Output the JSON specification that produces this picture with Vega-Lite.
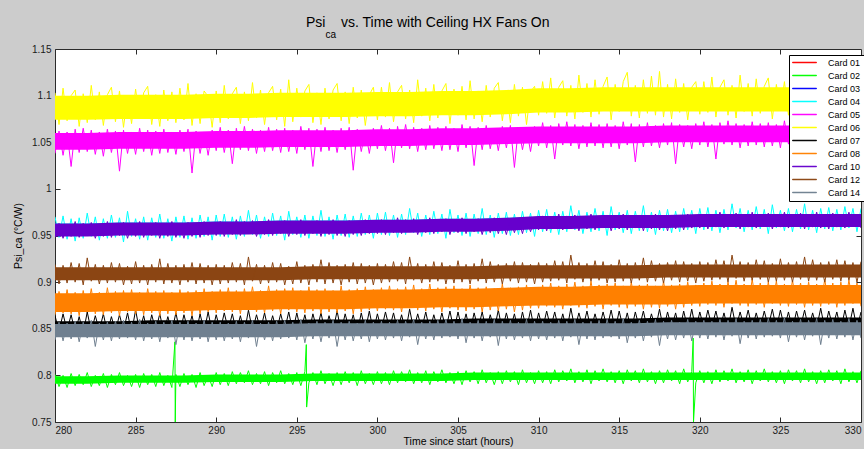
{
  "$schema": "https://vega.github.io/schema/vega-lite/v6.json",
  "width": 806,
  "height": 373,
  "autosize": {"type": "none"},
  "padding": {"left": 55, "top": 49, "right": 3, "bottom": 27},
  "background": "#cccccc",
  "title": {
    "text": "Psi\u00a0\u00a0\u00a0\u00a0vs. Time with Ceiling HX Fans On",
    "subtitle": "\u200b\u00a0\u00a0\u00a0\u00a0\u00a0\u00a0\u00a0ca",
    "anchor": "start",
    "frame": "group",
    "dx": 251,
    "offset": 4,
    "font": "Liberation Sans",
    "fontSize": 14,
    "fontWeight": "normal",
    "color": "#000000",
    "subtitleFont": "Liberation Sans",
    "subtitleFontSize": 10,
    "subtitleColor": "#000000",
    "subtitlePadding": 0
  },
  "config": {
    "font": "Liberation Sans",
    "view": {"fill": "white", "stroke": "#2b2b2b", "strokeWidth": 1},
    "axis": {
      "domain": false,
      "grid": false,
      "tickColor": "#2b2b2b",
      "tickSize": -5,
      "labelFont": "Liberation Sans",
      "labelFontSize": 10,
      "labelColor": "#1a1a1a",
      "titleFont": "Liberation Sans",
      "titleFontSize": 10.5,
      "titleFontWeight": "normal",
      "titleColor": "#000000"
    }
  },
  "datasets": {
    "bands": [
      {"t":280,"c01lo":0.875,"c01hi":0.881,"c02lo":0.791,"c02hi":0.799,"c03lo":0.953,"c03hi":0.959,"c04lo":0.953,"c04hi":0.963,"c05lo":1.042,"c05hi":1.060,"c06lo":1.074,"c06hi":1.100,"c07lo":0.852,"c07hi":0.858,"c08lo":0.868,"c08hi":0.888,"c10lo":0.949,"c10hi":0.963,"c12lo":0.902,"c12hi":0.916,"c14lo":0.841,"c14hi":0.855},
      {"t":282,"c01lo":0.875,"c01hi":0.881,"c02lo":0.791,"c02hi":0.799,"c03lo":0.953,"c03hi":0.959,"c04lo":0.953,"c04hi":0.963,"c05lo":1.042,"c05hi":1.060,"c06lo":1.074,"c06hi":1.100,"c07lo":0.852,"c07hi":0.858,"c08lo":0.868,"c08hi":0.888,"c10lo":0.949,"c10hi":0.963,"c12lo":0.902,"c12hi":0.916,"c14lo":0.841,"c14hi":0.855},
      {"t":284,"c01lo":0.876,"c01hi":0.882,"c02lo":0.792,"c02hi":0.800,"c03lo":0.954,"c03hi":0.960,"c04lo":0.954,"c04hi":0.964,"c05lo":1.043,"c05hi":1.061,"c06lo":1.075,"c06hi":1.101,"c07lo":0.852,"c07hi":0.858,"c08lo":0.869,"c08hi":0.889,"c10lo":0.950,"c10hi":0.964,"c12lo":0.902,"c12hi":0.916,"c14lo":0.841,"c14hi":0.855},
      {"t":286,"c01lo":0.876,"c01hi":0.882,"c02lo":0.792,"c02hi":0.800,"c03lo":0.954,"c03hi":0.960,"c04lo":0.954,"c04hi":0.964,"c05lo":1.043,"c05hi":1.061,"c06lo":1.075,"c06hi":1.101,"c07lo":0.853,"c07hi":0.859,"c08lo":0.869,"c08hi":0.889,"c10lo":0.950,"c10hi":0.964,"c12lo":0.902,"c12hi":0.916,"c14lo":0.841,"c14hi":0.855},
      {"t":288,"c01lo":0.876,"c01hi":0.882,"c02lo":0.792,"c02hi":0.800,"c03lo":0.954,"c03hi":0.960,"c04lo":0.954,"c04hi":0.964,"c05lo":1.043,"c05hi":1.061,"c06lo":1.075,"c06hi":1.101,"c07lo":0.853,"c07hi":0.859,"c08lo":0.869,"c08hi":0.889,"c10lo":0.950,"c10hi":0.964,"c12lo":0.902,"c12hi":0.916,"c14lo":0.841,"c14hi":0.855},
      {"t":290,"c01lo":0.877,"c01hi":0.883,"c02lo":0.793,"c02hi":0.801,"c03lo":0.955,"c03hi":0.961,"c04lo":0.955,"c04hi":0.965,"c05lo":1.044,"c05hi":1.062,"c06lo":1.076,"c06hi":1.102,"c07lo":0.853,"c07hi":0.859,"c08lo":0.870,"c08hi":0.890,"c10lo":0.951,"c10hi":0.965,"c12lo":0.902,"c12hi":0.916,"c14lo":0.841,"c14hi":0.855},
      {"t":292,"c01lo":0.877,"c01hi":0.883,"c02lo":0.793,"c02hi":0.801,"c03lo":0.955,"c03hi":0.961,"c04lo":0.955,"c04hi":0.965,"c05lo":1.044,"c05hi":1.062,"c06lo":1.076,"c06hi":1.102,"c07lo":0.853,"c07hi":0.859,"c08lo":0.870,"c08hi":0.890,"c10lo":0.951,"c10hi":0.965,"c12lo":0.902,"c12hi":0.916,"c14lo":0.841,"c14hi":0.855},
      {"t":294,"c01lo":0.878,"c01hi":0.884,"c02lo":0.793,"c02hi":0.801,"c03lo":0.956,"c03hi":0.962,"c04lo":0.956,"c04hi":0.966,"c05lo":1.045,"c05hi":1.063,"c06lo":1.077,"c06hi":1.103,"c07lo":0.853,"c07hi":0.859,"c08lo":0.871,"c08hi":0.891,"c10lo":0.952,"c10hi":0.966,"c12lo":0.902,"c12hi":0.916,"c14lo":0.841,"c14hi":0.855},
      {"t":296,"c01lo":0.878,"c01hi":0.884,"c02lo":0.794,"c02hi":0.802,"c03lo":0.956,"c03hi":0.962,"c04lo":0.956,"c04hi":0.966,"c05lo":1.045,"c05hi":1.063,"c06lo":1.077,"c06hi":1.103,"c07lo":0.854,"c07hi":0.860,"c08lo":0.871,"c08hi":0.891,"c10lo":0.952,"c10hi":0.966,"c12lo":0.903,"c12hi":0.917,"c14lo":0.842,"c14hi":0.856},
      {"t":298,"c01lo":0.878,"c01hi":0.884,"c02lo":0.794,"c02hi":0.802,"c03lo":0.956,"c03hi":0.962,"c04lo":0.956,"c04hi":0.966,"c05lo":1.045,"c05hi":1.063,"c06lo":1.077,"c06hi":1.103,"c07lo":0.854,"c07hi":0.860,"c08lo":0.871,"c08hi":0.891,"c10lo":0.952,"c10hi":0.966,"c12lo":0.903,"c12hi":0.917,"c14lo":0.842,"c14hi":0.856},
      {"t":300,"c01lo":0.879,"c01hi":0.885,"c02lo":0.794,"c02hi":0.802,"c03lo":0.957,"c03hi":0.963,"c04lo":0.957,"c04hi":0.967,"c05lo":1.046,"c05hi":1.064,"c06lo":1.078,"c06hi":1.104,"c07lo":0.854,"c07hi":0.860,"c08lo":0.872,"c08hi":0.892,"c10lo":0.953,"c10hi":0.967,"c12lo":0.903,"c12hi":0.917,"c14lo":0.842,"c14hi":0.856},
      {"t":302,"c01lo":0.879,"c01hi":0.885,"c02lo":0.794,"c02hi":0.802,"c03lo":0.957,"c03hi":0.963,"c04lo":0.957,"c04hi":0.967,"c05lo":1.046,"c05hi":1.064,"c06lo":1.078,"c06hi":1.104,"c07lo":0.854,"c07hi":0.860,"c08lo":0.872,"c08hi":0.892,"c10lo":0.953,"c10hi":0.967,"c12lo":0.903,"c12hi":0.917,"c14lo":0.842,"c14hi":0.856},
      {"t":304,"c01lo":0.880,"c01hi":0.886,"c02lo":0.794,"c02hi":0.802,"c03lo":0.958,"c03hi":0.964,"c04lo":0.958,"c04hi":0.968,"c05lo":1.047,"c05hi":1.065,"c06lo":1.079,"c06hi":1.105,"c07lo":0.854,"c07hi":0.860,"c08lo":0.873,"c08hi":0.893,"c10lo":0.954,"c10hi":0.968,"c12lo":0.903,"c12hi":0.917,"c14lo":0.842,"c14hi":0.856},
      {"t":306,"c01lo":0.880,"c01hi":0.886,"c02lo":0.795,"c02hi":0.803,"c03lo":0.958,"c03hi":0.964,"c04lo":0.958,"c04hi":0.968,"c05lo":1.047,"c05hi":1.065,"c06lo":1.079,"c06hi":1.105,"c07lo":0.855,"c07hi":0.861,"c08lo":0.873,"c08hi":0.893,"c10lo":0.954,"c10hi":0.968,"c12lo":0.903,"c12hi":0.917,"c14lo":0.842,"c14hi":0.856},
      {"t":308,"c01lo":0.881,"c01hi":0.887,"c02lo":0.795,"c02hi":0.803,"c03lo":0.959,"c03hi":0.965,"c04lo":0.959,"c04hi":0.969,"c05lo":1.048,"c05hi":1.066,"c06lo":1.080,"c06hi":1.106,"c07lo":0.855,"c07hi":0.861,"c08lo":0.874,"c08hi":0.894,"c10lo":0.955,"c10hi":0.969,"c12lo":0.904,"c12hi":0.918,"c14lo":0.842,"c14hi":0.856},
      {"t":310,"c01lo":0.882,"c01hi":0.888,"c02lo":0.795,"c02hi":0.803,"c03lo":0.961,"c03hi":0.967,"c04lo":0.960,"c04hi":0.970,"c05lo":1.049,"c05hi":1.067,"c06lo":1.082,"c06hi":1.108,"c07lo":0.855,"c07hi":0.861,"c08lo":0.875,"c08hi":0.895,"c10lo":0.957,"c10hi":0.971,"c12lo":0.904,"c12hi":0.918,"c14lo":0.842,"c14hi":0.856},
      {"t":312,"c01lo":0.882,"c01hi":0.888,"c02lo":0.795,"c02hi":0.803,"c03lo":0.961,"c03hi":0.967,"c04lo":0.960,"c04hi":0.970,"c05lo":1.049,"c05hi":1.067,"c06lo":1.082,"c06hi":1.108,"c07lo":0.855,"c07hi":0.861,"c08lo":0.875,"c08hi":0.895,"c10lo":0.957,"c10hi":0.971,"c12lo":0.904,"c12hi":0.918,"c14lo":0.842,"c14hi":0.856},
      {"t":314,"c01lo":0.883,"c01hi":0.889,"c02lo":0.795,"c02hi":0.803,"c03lo":0.962,"c03hi":0.968,"c04lo":0.961,"c04hi":0.971,"c05lo":1.049,"c05hi":1.067,"c06lo":1.083,"c06hi":1.109,"c07lo":0.855,"c07hi":0.861,"c08lo":0.876,"c08hi":0.896,"c10lo":0.958,"c10hi":0.972,"c12lo":0.904,"c12hi":0.918,"c14lo":0.842,"c14hi":0.856},
      {"t":316,"c01lo":0.883,"c01hi":0.889,"c02lo":0.795,"c02hi":0.803,"c03lo":0.962,"c03hi":0.968,"c04lo":0.961,"c04hi":0.971,"c05lo":1.049,"c05hi":1.067,"c06lo":1.083,"c06hi":1.109,"c07lo":0.855,"c07hi":0.861,"c08lo":0.876,"c08hi":0.896,"c10lo":0.958,"c10hi":0.972,"c12lo":0.904,"c12hi":0.918,"c14lo":0.842,"c14hi":0.856},
      {"t":318,"c01lo":0.883,"c01hi":0.889,"c02lo":0.795,"c02hi":0.803,"c03lo":0.962,"c03hi":0.968,"c04lo":0.961,"c04hi":0.971,"c05lo":1.050,"c05hi":1.068,"c06lo":1.083,"c06hi":1.109,"c07lo":0.856,"c07hi":0.862,"c08lo":0.876,"c08hi":0.896,"c10lo":0.958,"c10hi":0.972,"c12lo":0.905,"c12hi":0.919,"c14lo":0.843,"c14hi":0.857},
      {"t":320,"c01lo":0.884,"c01hi":0.890,"c02lo":0.795,"c02hi":0.803,"c03lo":0.963,"c03hi":0.969,"c04lo":0.962,"c04hi":0.972,"c05lo":1.050,"c05hi":1.068,"c06lo":1.083,"c06hi":1.109,"c07lo":0.856,"c07hi":0.862,"c08lo":0.877,"c08hi":0.897,"c10lo":0.959,"c10hi":0.973,"c12lo":0.905,"c12hi":0.919,"c14lo":0.843,"c14hi":0.857},
      {"t":322,"c01lo":0.884,"c01hi":0.890,"c02lo":0.795,"c02hi":0.803,"c03lo":0.963,"c03hi":0.969,"c04lo":0.962,"c04hi":0.972,"c05lo":1.050,"c05hi":1.068,"c06lo":1.083,"c06hi":1.109,"c07lo":0.856,"c07hi":0.862,"c08lo":0.877,"c08hi":0.897,"c10lo":0.959,"c10hi":0.973,"c12lo":0.905,"c12hi":0.919,"c14lo":0.843,"c14hi":0.857},
      {"t":324,"c01lo":0.884,"c01hi":0.890,"c02lo":0.795,"c02hi":0.803,"c03lo":0.963,"c03hi":0.969,"c04lo":0.962,"c04hi":0.972,"c05lo":1.050,"c05hi":1.068,"c06lo":1.083,"c06hi":1.109,"c07lo":0.856,"c07hi":0.862,"c08lo":0.877,"c08hi":0.897,"c10lo":0.959,"c10hi":0.973,"c12lo":0.905,"c12hi":0.919,"c14lo":0.843,"c14hi":0.857},
      {"t":326,"c01lo":0.884,"c01hi":0.890,"c02lo":0.795,"c02hi":0.803,"c03lo":0.963,"c03hi":0.969,"c04lo":0.962,"c04hi":0.972,"c05lo":1.050,"c05hi":1.068,"c06lo":1.083,"c06hi":1.109,"c07lo":0.856,"c07hi":0.862,"c08lo":0.877,"c08hi":0.897,"c10lo":0.959,"c10hi":0.973,"c12lo":0.905,"c12hi":0.919,"c14lo":0.843,"c14hi":0.857},
      {"t":328,"c01lo":0.884,"c01hi":0.890,"c02lo":0.795,"c02hi":0.803,"c03lo":0.963,"c03hi":0.969,"c04lo":0.962,"c04hi":0.972,"c05lo":1.050,"c05hi":1.068,"c06lo":1.083,"c06hi":1.109,"c07lo":0.856,"c07hi":0.862,"c08lo":0.877,"c08hi":0.897,"c10lo":0.959,"c10hi":0.973,"c12lo":0.905,"c12hi":0.919,"c14lo":0.843,"c14hi":0.857},
      {"t":330,"c01lo":0.884,"c01hi":0.890,"c02lo":0.795,"c02hi":0.803,"c03lo":0.963,"c03hi":0.969,"c04lo":0.962,"c04hi":0.972,"c05lo":1.050,"c05hi":1.068,"c06lo":1.083,"c06hi":1.109,"c07lo":0.856,"c07hi":0.862,"c08lo":0.877,"c08hi":0.897,"c10lo":0.959,"c10hi":0.973,"c12lo":0.905,"c12hi":0.919,"c14lo":0.843,"c14hi":0.857}
    ],
    "psi": [
      {"t":280,"c02":0.801,"c04":0.970,"c05":1.038,"c06":1.103,"c07":0.864,"c08":0.865,"c10":0.948,"c12":0.919,"c14":0.838},
      {"t":280.25,"c02":0.788,"c04":0.948,"c05":1.062,"c06":1.069,"c07":0.847,"c08":0.890,"c10":0.963,"c12":0.898,"c14":0.857},
      {"t":280.5,"c02":0.800,"c04":0.971,"c05":1.036,"c06":1.108,"c07":0.866,"c08":0.867,"c10":0.947,"c12":0.918,"c14":0.837},
      {"t":280.75,"c02":0.787,"c04":0.946,"c05":1.061,"c06":1.073,"c07":0.848,"c08":0.892,"c10":0.962,"c12":0.899,"c14":0.856},
      {"t":281,"c02":0.802,"c04":0.968,"c05":1.024,"c06":1.100,"c07":0.865,"c08":0.866,"c10":0.949,"c12":0.921,"c14":0.839},
      {"t":281.25,"c02":0.789,"c04":0.944,"c05":1.064,"c06":1.106,"c07":0.846,"c08":0.889,"c10":0.965,"c12":0.900,"c14":0.858},
      {"t":281.5,"c02":0.801,"c04":0.969,"c05":1.039,"c06":1.067,"c07":0.863,"c08":0.864,"c10":0.948,"c12":0.920,"c14":0.836},
      {"t":281.75,"c02":0.790,"c04":0.947,"c05":1.065,"c06":1.102,"c07":0.845,"c08":0.891,"c10":0.963,"c12":0.897,"c14":0.857},
      {"t":282,"c02":0.803,"c04":0.974,"c05":1.040,"c06":1.071,"c07":0.868,"c08":0.868,"c10":0.950,"c12":0.926,"c14":0.840},
      {"t":282.25,"c02":0.788,"c04":0.949,"c05":1.063,"c06":1.111,"c07":0.847,"c08":0.893,"c10":0.964,"c12":0.901,"c14":0.859},
      {"t":282.5,"c02":0.800,"c04":0.970,"c05":1.037,"c06":1.074,"c07":0.864,"c08":0.866,"c10":0.947,"c12":0.919,"c14":0.831},
      {"t":282.75,"c02":0.789,"c04":0.945,"c05":1.061,"c06":1.104,"c07":0.848,"c08":0.889,"c10":0.962,"c12":0.898,"c14":0.856},
      {"t":283,"c02":0.802,"c04":0.968,"c05":1.035,"c06":1.068,"c07":0.866,"c08":0.865,"c10":0.949,"c12":0.918,"c14":0.838},
      {"t":283.25,"c02":0.787,"c04":0.947,"c05":1.064,"c06":1.101,"c07":0.846,"c08":0.894,"c10":0.965,"c12":0.899,"c14":0.857},
      {"t":283.5,"c02":0.801,"c04":0.972,"c05":1.039,"c06":1.109,"c07":0.863,"c08":0.867,"c10":0.948,"c12":0.921,"c14":0.837},
      {"t":283.75,"c02":0.790,"c04":0.948,"c05":1.062,"c06":1.072,"c07":0.847,"c08":0.890,"c10":0.963,"c12":0.900,"c14":0.858},
      {"t":284,"c02":0.803,"c04":0.969,"c05":1.019,"c06":1.105,"c07":0.865,"c08":0.864,"c10":0.950,"c12":0.920,"c14":0.839},
      {"t":284.25,"c02":0.789,"c04":0.943,"c05":1.063,"c06":1.066,"c07":0.848,"c08":0.891,"c10":0.964,"c12":0.897,"c14":0.859},
      {"t":284.5,"c02":0.800,"c04":0.976,"c05":1.038,"c06":1.100,"c07":0.867,"c08":0.868,"c10":0.947,"c12":0.917,"c14":0.840},
      {"t":284.75,"c02":0.788,"c04":0.949,"c05":1.061,"c06":1.070,"c07":0.846,"c08":0.892,"c10":0.962,"c12":0.898,"c14":0.857},
      {"t":285,"c02":0.801,"c04":0.968,"c05":1.037,"c06":1.107,"c07":0.870,"c08":0.866,"c10":0.949,"c12":0.922,"c14":0.838},
      {"t":285.25,"c02":0.787,"c04":0.946,"c05":1.065,"c06":1.075,"c07":0.847,"c08":0.889,"c10":0.965,"c12":0.899,"c14":0.860},
      {"t":285.5,"c02":0.802,"c04":0.970,"c05":1.040,"c06":1.103,"c07":0.864,"c08":0.865,"c10":0.948,"c12":0.918,"c14":0.837},
      {"t":285.75,"c02":0.790,"c04":0.945,"c05":1.063,"c06":1.110,"c07":0.845,"c08":0.893,"c10":0.963,"c12":0.897,"c14":0.856},
      {"t":286,"c02":0.801,"c04":0.969,"c05":1.036,"c06":1.069,"c07":0.865,"c08":0.867,"c10":0.950,"c12":0.919,"c14":0.839},
      {"t":286.25,"c02":0.788,"c04":0.948,"c05":1.062,"c06":1.101,"c07":0.848,"c08":0.890,"c10":0.964,"c12":0.900,"c14":0.858},
      {"t":286.5,"c02":0.803,"c04":0.973,"c05":1.038,"c06":1.067,"c07":0.866,"c08":0.864,"c10":0.947,"c12":0.925,"c14":0.836},
      {"t":286.75,"c02":0.789,"c04":0.947,"c05":1.064,"c06":1.106,"c07":0.846,"c08":0.891,"c10":0.963,"c12":0.898,"c14":0.857},
      {"t":287,"c02":0.800,"c04":0.968,"c05":1.039,"c06":1.073,"c07":0.863,"c08":0.866,"c10":0.949,"c12":0.920,"c14":0.840},
      {"t":287.25,"c02":0.787,"c04":0.944,"c05":1.061,"c06":1.104,"c07":0.847,"c08":0.889,"c10":0.965,"c12":0.899,"c14":0.859},
      {"t":287.44,"c02":0.836},
      {"t":287.46,"c02":0.750},
      {"t":287.5,"c02":0.801,"c04":0.970,"c05":1.037,"c06":1.071,"c07":0.867,"c08":0.865,"c10":0.948,"c12":0.918,"c14":0.833},
      {"t":287.75,"c02":0.788,"c04":0.948,"c05":1.063,"c06":1.108,"c07":0.846,"c08":0.892,"c10":0.962,"c12":0.897,"c14":0.857},
      {"t":288,"c02":0.802,"c04":0.971,"c05":1.040,"c06":1.074,"c07":0.865,"c08":0.867,"c10":0.947,"c12":0.919,"c14":0.838},
      {"t":288.25,"c02":0.790,"c04":0.946,"c05":1.064,"c06":1.113,"c07":0.848,"c08":0.890,"c10":0.964,"c12":0.900,"c14":0.858},
      {"t":288.5,"c02":0.801,"c04":0.969,"c05":1.017,"c06":1.068,"c07":0.864,"c08":0.864,"c10":0.949,"c12":0.921,"c14":0.837},
      {"t":288.75,"c02":0.787,"c04":0.947,"c05":1.062,"c06":1.102,"c07":0.845,"c08":0.891,"c10":0.963,"c12":0.898,"c14":0.856},
      {"t":289,"c02":0.803,"c04":0.972,"c05":1.038,"c06":1.070,"c07":0.866,"c08":0.866,"c10":0.948,"c12":0.920,"c14":0.839},
      {"t":289.25,"c02":0.789,"c04":0.949,"c05":1.061,"c06":1.105,"c07":0.847,"c08":0.893,"c10":0.965,"c12":0.899,"c14":0.859},
      {"t":289.5,"c02":0.800,"c04":0.970,"c05":1.036,"c06":1.099,"c07":0.868,"c08":0.868,"c10":0.950,"c12":0.918,"c14":0.836},
      {"t":289.75,"c02":0.788,"c04":0.945,"c05":1.063,"c06":1.066,"c07":0.846,"c08":0.890,"c10":0.963,"c12":0.897,"c14":0.857},
      {"t":290,"c02":0.803,"c04":0.972,"c05":1.041,"c06":1.105,"c07":0.865,"c08":0.867,"c10":0.950,"c12":0.919,"c14":0.838},
      {"t":290.25,"c02":0.790,"c04":0.949,"c05":1.066,"c06":1.071,"c07":0.848,"c08":0.892,"c10":0.965,"c12":0.898,"c14":0.857},
      {"t":290.5,"c02":0.802,"c04":0.973,"c05":1.039,"c06":1.111,"c07":0.867,"c08":0.869,"c10":0.949,"c12":0.918,"c14":0.837},
      {"t":290.75,"c02":0.789,"c04":0.948,"c05":1.063,"c06":1.075,"c07":0.849,"c08":0.894,"c10":0.964,"c12":0.899,"c14":0.856},
      {"t":291,"c02":0.804,"c04":0.970,"c05":1.027,"c06":1.102,"c07":0.866,"c08":0.868,"c10":0.951,"c12":0.921,"c14":0.839},
      {"t":291.25,"c02":0.791,"c04":0.946,"c05":1.065,"c06":1.109,"c07":0.847,"c08":0.891,"c10":0.967,"c12":0.900,"c14":0.858},
      {"t":291.5,"c02":0.803,"c04":0.971,"c05":1.042,"c06":1.070,"c07":0.864,"c08":0.866,"c10":0.950,"c12":0.920,"c14":0.836},
      {"t":291.75,"c02":0.792,"c04":0.949,"c05":1.067,"c06":1.104,"c07":0.846,"c08":0.893,"c10":0.965,"c12":0.897,"c14":0.857},
      {"t":292,"c02":0.805,"c04":0.977,"c05":1.041,"c06":1.073,"c07":0.870,"c08":0.870,"c10":0.952,"c12":0.927,"c14":0.840},
      {"t":292.25,"c02":0.790,"c04":0.951,"c05":1.064,"c06":1.114,"c07":0.848,"c08":0.895,"c10":0.966,"c12":0.901,"c14":0.859},
      {"t":292.5,"c02":0.802,"c04":0.972,"c05":1.038,"c06":1.076,"c07":0.865,"c08":0.868,"c10":0.949,"c12":0.919,"c14":0.831},
      {"t":292.75,"c02":0.791,"c04":0.947,"c05":1.063,"c06":1.106,"c07":0.849,"c08":0.891,"c10":0.964,"c12":0.898,"c14":0.856},
      {"t":293,"c02":0.804,"c04":0.970,"c05":1.040,"c06":1.069,"c07":0.867,"c08":0.867,"c10":0.951,"c12":0.918,"c14":0.838},
      {"t":293.25,"c02":0.789,"c04":0.949,"c05":1.066,"c06":1.103,"c07":0.847,"c08":0.896,"c10":0.967,"c12":0.899,"c14":0.857},
      {"t":293.5,"c02":0.803,"c04":0.974,"c05":1.041,"c06":1.110,"c07":0.864,"c08":0.869,"c10":0.950,"c12":0.921,"c14":0.837},
      {"t":293.75,"c02":0.792,"c04":0.950,"c05":1.064,"c06":1.074,"c07":0.848,"c08":0.892,"c10":0.965,"c12":0.900,"c14":0.858},
      {"t":294,"c02":0.805,"c04":0.971,"c05":1.039,"c06":1.107,"c07":0.866,"c08":0.866,"c10":0.952,"c12":0.920,"c14":0.839},
      {"t":294.25,"c02":0.791,"c04":0.945,"c05":1.065,"c06":1.067,"c07":0.849,"c08":0.893,"c10":0.966,"c12":0.897,"c14":0.859},
      {"t":294.5,"c02":0.802,"c04":0.976,"c05":1.040,"c06":1.117,"c07":0.868,"c08":0.870,"c10":0.949,"c12":0.917,"c14":0.840},
      {"t":294.75,"c02":0.790,"c04":0.951,"c05":1.063,"c06":1.072,"c07":0.847,"c08":0.894,"c10":0.964,"c12":0.898,"c14":0.857},
      {"t":295,"c02":0.803,"c04":0.970,"c05":1.038,"c06":1.108,"c07":0.867,"c08":0.868,"c10":0.951,"c12":0.922,"c14":0.838},
      {"t":295.25,"c02":0.789,"c04":0.948,"c05":1.067,"c06":1.077,"c07":0.848,"c08":0.891,"c10":0.967,"c12":0.899,"c14":0.860},
      {"t":295.5,"c02":0.804,"c04":0.972,"c05":1.042,"c06":1.105,"c07":0.865,"c08":0.867,"c10":0.950,"c12":0.918,"c14":0.835},
      {"t":295.59,"c02":0.833},
      {"t":295.61,"c02":0.766},
      {"t":295.75,"c02":0.792,"c04":0.947,"c05":1.065,"c06":1.112,"c07":0.846,"c08":0.895,"c10":0.965,"c12":0.897,"c14":0.856},
      {"t":296,"c02":0.803,"c04":0.971,"c05":1.024,"c06":1.071,"c07":0.866,"c08":0.869,"c10":0.952,"c12":0.919,"c14":0.839},
      {"t":296.25,"c02":0.790,"c04":0.950,"c05":1.064,"c06":1.103,"c07":0.849,"c08":0.892,"c10":0.966,"c12":0.900,"c14":0.858},
      {"t":296.5,"c02":0.805,"c04":0.977,"c05":1.040,"c06":1.069,"c07":0.867,"c08":0.866,"c10":0.949,"c12":0.924,"c14":0.836},
      {"t":296.75,"c02":0.791,"c04":0.949,"c05":1.066,"c06":1.108,"c07":0.847,"c08":0.893,"c10":0.965,"c12":0.898,"c14":0.857},
      {"t":297,"c02":0.802,"c04":0.970,"c05":1.041,"c06":1.075,"c07":0.864,"c08":0.868,"c10":0.951,"c12":0.921,"c14":0.840},
      {"t":297.25,"c02":0.789,"c04":0.946,"c05":1.063,"c06":1.106,"c07":0.848,"c08":0.891,"c10":0.967,"c12":0.899,"c14":0.859},
      {"t":297.5,"c02":0.803,"c04":0.972,"c05":1.039,"c06":1.113,"c07":0.869,"c08":0.867,"c10":0.950,"c12":0.918,"c14":0.831},
      {"t":297.75,"c02":0.790,"c04":0.950,"c05":1.065,"c06":1.073,"c07":0.847,"c08":0.896,"c10":0.964,"c12":0.897,"c14":0.857},
      {"t":298,"c02":0.804,"c04":0.973,"c05":1.042,"c06":1.104,"c07":0.866,"c08":0.869,"c10":0.949,"c12":0.919,"c14":0.838},
      {"t":298.25,"c02":0.792,"c04":0.948,"c05":1.066,"c06":1.070,"c07":0.849,"c08":0.892,"c10":0.966,"c12":0.900,"c14":0.858},
      {"t":298.5,"c02":0.803,"c04":0.971,"c05":1.020,"c06":1.109,"c07":0.865,"c08":0.866,"c10":0.951,"c12":0.921,"c14":0.837},
      {"t":298.75,"c02":0.789,"c04":0.949,"c05":1.064,"c06":1.076,"c07":0.846,"c08":0.893,"c10":0.965,"c12":0.898,"c14":0.856},
      {"t":299,"c02":0.805,"c04":0.974,"c05":1.040,"c06":1.106,"c07":0.867,"c08":0.868,"c10":0.950,"c12":0.920,"c14":0.839},
      {"t":299.25,"c02":0.791,"c04":0.951,"c05":1.063,"c06":1.068,"c07":0.848,"c08":0.895,"c10":0.967,"c12":0.899,"c14":0.859},
      {"t":299.5,"c02":0.802,"c04":0.972,"c05":1.038,"c06":1.101,"c07":0.869,"c08":0.870,"c10":0.952,"c12":0.918,"c14":0.836},
      {"t":299.75,"c02":0.790,"c04":0.947,"c05":1.065,"c06":1.109,"c07":0.847,"c08":0.892,"c10":0.965,"c12":0.897,"c14":0.857},
      {"t":300,"c02":0.804,"c04":0.974,"c05":1.043,"c06":1.074,"c07":0.866,"c08":0.869,"c10":0.952,"c12":0.920,"c14":0.839},
      {"t":300.25,"c02":0.791,"c04":0.951,"c05":1.068,"c06":1.109,"c07":0.849,"c08":0.894,"c10":0.967,"c12":0.899,"c14":0.858},
      {"t":300.5,"c02":0.803,"c04":0.975,"c05":1.041,"c06":1.077,"c07":0.868,"c08":0.871,"c10":0.951,"c12":0.919,"c14":0.838},
      {"t":300.75,"c02":0.790,"c04":0.950,"c05":1.065,"c06":1.114,"c07":0.850,"c08":0.896,"c10":0.966,"c12":0.900,"c14":0.857},
      {"t":301,"c02":0.805,"c04":0.972,"c05":1.028,"c06":1.072,"c07":0.867,"c08":0.870,"c10":0.953,"c12":0.922,"c14":0.840},
      {"t":301.25,"c02":0.792,"c04":0.948,"c05":1.067,"c06":1.104,"c07":0.848,"c08":0.893,"c10":0.969,"c12":0.901,"c14":0.859},
      {"t":301.5,"c02":0.804,"c04":0.973,"c05":1.044,"c06":1.111,"c07":0.865,"c08":0.868,"c10":0.952,"c12":0.921,"c14":0.837},
      {"t":301.75,"c02":0.793,"c04":0.951,"c05":1.069,"c06":1.075,"c07":0.847,"c08":0.895,"c10":0.967,"c12":0.898,"c14":0.858},
      {"t":302,"c02":0.806,"c04":0.979,"c05":1.043,"c06":1.106,"c07":0.871,"c08":0.872,"c10":0.954,"c12":0.927,"c14":0.841},
      {"t":302.25,"c02":0.791,"c04":0.953,"c05":1.066,"c06":1.071,"c07":0.849,"c08":0.897,"c10":0.968,"c12":0.902,"c14":0.860},
      {"t":302.5,"c02":0.803,"c04":0.974,"c05":1.040,"c06":1.117,"c07":0.866,"c08":0.870,"c10":0.951,"c12":0.920,"c14":0.833},
      {"t":302.75,"c02":0.792,"c04":0.949,"c05":1.065,"c06":1.078,"c07":0.850,"c08":0.893,"c10":0.966,"c12":0.899,"c14":0.857},
      {"t":303,"c02":0.805,"c04":0.972,"c05":1.042,"c06":1.108,"c07":0.868,"c08":0.869,"c10":0.953,"c12":0.919,"c14":0.839},
      {"t":303.25,"c02":0.790,"c04":0.951,"c05":1.068,"c06":1.073,"c07":0.848,"c08":0.898,"c10":0.969,"c12":0.900,"c14":0.858},
      {"t":303.5,"c02":0.804,"c04":0.976,"c05":1.043,"c06":1.112,"c07":0.865,"c08":0.871,"c10":0.952,"c12":0.922,"c14":0.838},
      {"t":303.75,"c02":0.793,"c04":0.952,"c05":1.066,"c06":1.076,"c07":0.849,"c08":0.894,"c10":0.967,"c12":0.901,"c14":0.859},
      {"t":304,"c02":0.806,"c04":0.973,"c05":1.041,"c06":1.105,"c07":0.867,"c08":0.868,"c10":0.954,"c12":0.921,"c14":0.840},
      {"t":304.25,"c02":0.792,"c04":0.947,"c05":1.067,"c06":1.113,"c07":0.850,"c08":0.895,"c10":0.968,"c12":0.898,"c14":0.860},
      {"t":304.5,"c02":0.803,"c04":0.978,"c05":1.042,"c06":1.070,"c07":0.869,"c08":0.872,"c10":0.951,"c12":0.918,"c14":0.841},
      {"t":304.75,"c02":0.791,"c04":0.953,"c05":1.065,"c06":1.107,"c07":0.848,"c08":0.896,"c10":0.966,"c12":0.899,"c14":0.858},
      {"t":305,"c02":0.804,"c04":0.972,"c05":1.040,"c06":1.079,"c07":0.868,"c08":0.870,"c10":0.953,"c12":0.923,"c14":0.839},
      {"t":305.25,"c02":0.790,"c04":0.950,"c05":1.069,"c06":1.110,"c07":0.849,"c08":0.893,"c10":0.969,"c12":0.900,"c14":0.861},
      {"t":305.5,"c02":0.805,"c04":0.974,"c05":1.044,"c06":1.074,"c07":0.866,"c08":0.869,"c10":0.952,"c12":0.919,"c14":0.835},
      {"t":305.75,"c02":0.793,"c04":0.949,"c05":1.067,"c06":1.116,"c07":0.847,"c08":0.897,"c10":0.967,"c12":0.898,"c14":0.857},
      {"t":306,"c02":0.804,"c04":0.973,"c05":1.025,"c06":1.075,"c07":0.867,"c08":0.871,"c10":0.954,"c12":0.920,"c14":0.840},
      {"t":306.25,"c02":0.791,"c04":0.952,"c05":1.066,"c06":1.105,"c07":0.850,"c08":0.894,"c10":0.968,"c12":0.901,"c14":0.859},
      {"t":306.5,"c02":0.806,"c04":0.979,"c05":1.042,"c06":1.072,"c07":0.868,"c08":0.868,"c10":0.951,"c12":0.925,"c14":0.837},
      {"t":306.75,"c02":0.792,"c04":0.951,"c05":1.068,"c06":1.111,"c07":0.848,"c08":0.895,"c10":0.967,"c12":0.899,"c14":0.858},
      {"t":307,"c02":0.803,"c04":0.972,"c05":1.043,"c06":1.077,"c07":0.865,"c08":0.870,"c10":0.953,"c12":0.922,"c14":0.841},
      {"t":307.25,"c02":0.790,"c04":0.948,"c05":1.065,"c06":1.108,"c07":0.849,"c08":0.893,"c10":0.969,"c12":0.900,"c14":0.860},
      {"t":307.5,"c02":0.804,"c04":0.974,"c05":1.041,"c06":1.114,"c07":0.870,"c08":0.869,"c10":0.952,"c12":0.919,"c14":0.832},
      {"t":307.75,"c02":0.791,"c04":0.952,"c05":1.067,"c06":1.073,"c07":0.848,"c08":0.898,"c10":0.966,"c12":0.898,"c14":0.858},
      {"t":308,"c02":0.805,"c04":0.975,"c05":1.044,"c06":1.106,"c07":0.867,"c08":0.871,"c10":0.951,"c12":0.920,"c14":0.839},
      {"t":308.25,"c02":0.793,"c04":0.950,"c05":1.068,"c06":1.071,"c07":0.850,"c08":0.894,"c10":0.968,"c12":0.901,"c14":0.859},
      {"t":308.5,"c02":0.804,"c04":0.973,"c05":1.023,"c06":1.112,"c07":0.866,"c08":0.868,"c10":0.953,"c12":0.922,"c14":0.838},
      {"t":308.75,"c02":0.790,"c04":0.951,"c05":1.066,"c06":1.078,"c07":0.847,"c08":0.895,"c10":0.967,"c12":0.899,"c14":0.857},
      {"t":309,"c02":0.806,"c04":0.976,"c05":1.042,"c06":1.109,"c07":0.868,"c08":0.870,"c10":0.952,"c12":0.921,"c14":0.840},
      {"t":309.25,"c02":0.792,"c04":0.953,"c05":1.065,"c06":1.069,"c07":0.849,"c08":0.897,"c10":0.969,"c12":0.900,"c14":0.860},
      {"t":309.5,"c02":0.803,"c04":0.974,"c05":1.040,"c06":1.104,"c07":0.870,"c08":0.872,"c10":0.954,"c12":0.919,"c14":0.837},
      {"t":309.75,"c02":0.791,"c04":0.949,"c05":1.067,"c06":1.110,"c07":0.848,"c08":0.894,"c10":0.967,"c12":0.898,"c14":0.858},
      {"t":310,"c02":0.805,"c04":0.977,"c05":1.046,"c06":1.079,"c07":0.867,"c08":0.872,"c10":0.956,"c12":0.921,"c14":0.839},
      {"t":310.25,"c02":0.792,"c04":0.954,"c05":1.071,"c06":1.115,"c07":0.850,"c08":0.897,"c10":0.971,"c12":0.900,"c14":0.858},
      {"t":310.5,"c02":0.804,"c04":0.978,"c05":1.044,"c06":1.081,"c07":0.869,"c08":0.874,"c10":0.955,"c12":0.920,"c14":0.838},
      {"t":310.75,"c02":0.791,"c04":0.953,"c05":1.068,"c06":1.119,"c07":0.851,"c08":0.899,"c10":0.970,"c12":0.901,"c14":0.857},
      {"t":311,"c02":0.806,"c04":0.975,"c05":1.032,"c06":1.076,"c07":0.868,"c08":0.873,"c10":0.957,"c12":0.923,"c14":0.840},
      {"t":311.25,"c02":0.793,"c04":0.951,"c05":1.070,"c06":1.109,"c07":0.849,"c08":0.896,"c10":0.973,"c12":0.902,"c14":0.859},
      {"t":311.5,"c02":0.805,"c04":0.976,"c05":1.047,"c06":1.116,"c07":0.866,"c08":0.871,"c10":0.956,"c12":0.922,"c14":0.837},
      {"t":311.75,"c02":0.794,"c04":0.954,"c05":1.072,"c06":1.078,"c07":0.848,"c08":0.898,"c10":0.971,"c12":0.899,"c14":0.858},
      {"t":312,"c02":0.807,"c04":0.982,"c05":1.046,"c06":1.111,"c07":0.872,"c08":0.875,"c10":0.958,"c12":0.929,"c14":0.841},
      {"t":312.25,"c02":0.792,"c04":0.956,"c05":1.069,"c06":1.075,"c07":0.850,"c08":0.900,"c10":0.972,"c12":0.903,"c14":0.860},
      {"t":312.5,"c02":0.804,"c04":0.977,"c05":1.043,"c06":1.122,"c07":0.867,"c08":0.873,"c10":0.955,"c12":0.921,"c14":0.833},
      {"t":312.75,"c02":0.793,"c04":0.952,"c05":1.068,"c06":1.082,"c07":0.851,"c08":0.896,"c10":0.970,"c12":0.900,"c14":0.857},
      {"t":313,"c02":0.806,"c04":0.975,"c05":1.045,"c06":1.113,"c07":0.869,"c08":0.872,"c10":0.957,"c12":0.920,"c14":0.839},
      {"t":313.25,"c02":0.791,"c04":0.954,"c05":1.071,"c06":1.077,"c07":0.849,"c08":0.901,"c10":0.973,"c12":0.901,"c14":0.858},
      {"t":313.5,"c02":0.805,"c04":0.979,"c05":1.046,"c06":1.117,"c07":0.866,"c08":0.874,"c10":0.956,"c12":0.923,"c14":0.838},
      {"t":313.75,"c02":0.794,"c04":0.955,"c05":1.069,"c06":1.080,"c07":0.850,"c08":0.897,"c10":0.971,"c12":0.902,"c14":0.859},
      {"t":314,"c02":0.807,"c04":0.976,"c05":1.044,"c06":1.110,"c07":0.868,"c08":0.871,"c10":0.958,"c12":0.922,"c14":0.840},
      {"t":314.25,"c02":0.793,"c04":0.950,"c05":1.070,"c06":1.120,"c07":0.851,"c08":0.898,"c10":0.972,"c12":0.899,"c14":0.860},
      {"t":314.5,"c02":0.804,"c04":0.981,"c05":1.045,"c06":1.074,"c07":0.870,"c08":0.875,"c10":0.955,"c12":0.919,"c14":0.841},
      {"t":314.75,"c02":0.792,"c04":0.956,"c05":1.068,"c06":1.112,"c07":0.849,"c08":0.899,"c10":0.970,"c12":0.900,"c14":0.858},
      {"t":315,"c02":0.805,"c04":0.975,"c05":1.043,"c06":1.083,"c07":0.869,"c08":0.873,"c10":0.957,"c12":0.924,"c14":0.839},
      {"t":315.25,"c02":0.791,"c04":0.953,"c05":1.072,"c06":1.115,"c07":0.850,"c08":0.896,"c10":0.973,"c12":0.901,"c14":0.861},
      {"t":315.5,"c02":0.806,"c04":0.977,"c05":1.047,"c06":1.125,"c07":0.867,"c08":0.872,"c10":0.956,"c12":0.920,"c14":0.835},
      {"t":315.75,"c02":0.794,"c04":0.952,"c05":1.070,"c06":1.078,"c07":0.848,"c08":0.900,"c10":0.971,"c12":0.899,"c14":0.857},
      {"t":316,"c02":0.805,"c04":0.976,"c05":1.029,"c06":1.111,"c07":0.868,"c08":0.874,"c10":0.958,"c12":0.921,"c14":0.840},
      {"t":316.25,"c02":0.792,"c04":0.955,"c05":1.069,"c06":1.076,"c07":0.851,"c08":0.897,"c10":0.972,"c12":0.902,"c14":0.859},
      {"t":316.5,"c02":0.807,"c04":0.982,"c05":1.045,"c06":1.117,"c07":0.869,"c08":0.871,"c10":0.955,"c12":0.926,"c14":0.837},
      {"t":316.75,"c02":0.793,"c04":0.954,"c05":1.071,"c06":1.081,"c07":0.849,"c08":0.898,"c10":0.971,"c12":0.900,"c14":0.858},
      {"t":317,"c02":0.804,"c04":0.975,"c05":1.046,"c06":1.121,"c07":0.866,"c08":0.873,"c10":0.957,"c12":0.923,"c14":0.841},
      {"t":317.25,"c02":0.791,"c04":0.951,"c05":1.068,"c06":1.079,"c07":0.850,"c08":0.896,"c10":0.973,"c12":0.901,"c14":0.860},
      {"t":317.5,"c02":0.805,"c04":0.977,"c05":1.044,"c06":1.126,"c07":0.871,"c08":0.872,"c10":0.956,"c12":0.920,"c14":0.832},
      {"t":317.75,"c02":0.792,"c04":0.955,"c05":1.070,"c06":1.077,"c07":0.849,"c08":0.901,"c10":0.970,"c12":0.899,"c14":0.858},
      {"t":318,"c02":0.806,"c04":0.978,"c05":1.047,"c06":1.112,"c07":0.868,"c08":0.874,"c10":0.955,"c12":0.921,"c14":0.839},
      {"t":318.25,"c02":0.794,"c04":0.953,"c05":1.071,"c06":1.075,"c07":0.851,"c08":0.897,"c10":0.972,"c12":0.902,"c14":0.859},
      {"t":318.5,"c02":0.805,"c04":0.976,"c05":1.027,"c06":1.118,"c07":0.867,"c08":0.871,"c10":0.957,"c12":0.923,"c14":0.838},
      {"t":318.75,"c02":0.791,"c04":0.954,"c05":1.069,"c06":1.082,"c07":0.848,"c08":0.898,"c10":0.971,"c12":0.900,"c14":0.857},
      {"t":319,"c02":0.807,"c04":0.979,"c05":1.045,"c06":1.113,"c07":0.869,"c08":0.873,"c10":0.956,"c12":0.922,"c14":0.840},
      {"t":319.25,"c02":0.793,"c04":0.956,"c05":1.068,"c06":1.074,"c07":0.850,"c08":0.900,"c10":0.973,"c12":0.901,"c14":0.860},
      {"t":319.5,"c02":0.804,"c04":0.977,"c05":1.043,"c06":1.109,"c07":0.871,"c08":0.875,"c10":0.958,"c12":0.920,"c14":0.837},
      {"t":319.59,"c02":0.840},
      {"t":319.61,"c02":0.750},
      {"t":319.75,"c02":0.792,"c04":0.952,"c05":1.070,"c06":1.115,"c07":0.849,"c08":0.897,"c10":0.971,"c12":0.899,"c14":0.858},
      {"t":320,"c02":0.805,"c04":0.979,"c05":1.047,"c06":1.080,"c07":0.868,"c08":0.874,"c10":0.958,"c12":0.922,"c14":0.840},
      {"t":320.25,"c02":0.792,"c04":0.956,"c05":1.072,"c06":1.115,"c07":0.851,"c08":0.899,"c10":0.973,"c12":0.901,"c14":0.859},
      {"t":320.5,"c02":0.804,"c04":0.980,"c05":1.045,"c06":1.082,"c07":0.870,"c08":0.876,"c10":0.957,"c12":0.921,"c14":0.839},
      {"t":320.75,"c02":0.791,"c04":0.955,"c05":1.069,"c06":1.120,"c07":0.852,"c08":0.901,"c10":0.972,"c12":0.902,"c14":0.858},
      {"t":321,"c02":0.806,"c04":0.977,"c05":1.032,"c06":1.077,"c07":0.869,"c08":0.875,"c10":0.959,"c12":0.924,"c14":0.841},
      {"t":321.25,"c02":0.793,"c04":0.953,"c05":1.071,"c06":1.109,"c07":0.850,"c08":0.898,"c10":0.975,"c12":0.903,"c14":0.860},
      {"t":321.5,"c02":0.805,"c04":0.978,"c05":1.048,"c06":1.117,"c07":0.867,"c08":0.873,"c10":0.958,"c12":0.923,"c14":0.838},
      {"t":321.75,"c02":0.794,"c04":0.956,"c05":1.073,"c06":1.079,"c07":0.849,"c08":0.900,"c10":0.973,"c12":0.900,"c14":0.859},
      {"t":322,"c02":0.807,"c04":0.984,"c05":1.047,"c06":1.111,"c07":0.873,"c08":0.877,"c10":0.960,"c12":0.929,"c14":0.842},
      {"t":322.25,"c02":0.792,"c04":0.958,"c05":1.070,"c06":1.076,"c07":0.851,"c08":0.902,"c10":0.974,"c12":0.904,"c14":0.861},
      {"t":322.5,"c02":0.804,"c04":0.979,"c05":1.044,"c06":1.122,"c07":0.868,"c08":0.875,"c10":0.957,"c12":0.922,"c14":0.834},
      {"t":322.75,"c02":0.793,"c04":0.954,"c05":1.069,"c06":1.083,"c07":0.852,"c08":0.898,"c10":0.972,"c12":0.901,"c14":0.858},
      {"t":323,"c02":0.806,"c04":0.977,"c05":1.046,"c06":1.113,"c07":0.870,"c08":0.874,"c10":0.959,"c12":0.921,"c14":0.840},
      {"t":323.25,"c02":0.791,"c04":0.956,"c05":1.072,"c06":1.078,"c07":0.850,"c08":0.903,"c10":0.975,"c12":0.902,"c14":0.859},
      {"t":323.5,"c02":0.805,"c04":0.981,"c05":1.047,"c06":1.118,"c07":0.867,"c08":0.876,"c10":0.958,"c12":0.924,"c14":0.839},
      {"t":323.75,"c02":0.794,"c04":0.957,"c05":1.070,"c06":1.081,"c07":0.851,"c08":0.899,"c10":0.973,"c12":0.903,"c14":0.860},
      {"t":324,"c02":0.807,"c04":0.978,"c05":1.045,"c06":1.110,"c07":0.869,"c08":0.873,"c10":0.960,"c12":0.923,"c14":0.841},
      {"t":324.25,"c02":0.793,"c04":0.952,"c05":1.071,"c06":1.119,"c07":0.852,"c08":0.900,"c10":0.974,"c12":0.900,"c14":0.861},
      {"t":324.5,"c02":0.804,"c04":0.983,"c05":1.046,"c06":1.075,"c07":0.871,"c08":0.877,"c10":0.957,"c12":0.920,"c14":0.842},
      {"t":324.75,"c02":0.792,"c04":0.958,"c05":1.069,"c06":1.112,"c07":0.850,"c08":0.901,"c10":0.972,"c12":0.901,"c14":0.859},
      {"t":325,"c02":0.805,"c04":0.977,"c05":1.044,"c06":1.084,"c07":0.870,"c08":0.875,"c10":0.959,"c12":0.925,"c14":0.840},
      {"t":325.25,"c02":0.791,"c04":0.955,"c05":1.073,"c06":1.115,"c07":0.851,"c08":0.898,"c10":0.975,"c12":0.902,"c14":0.862},
      {"t":325.5,"c02":0.806,"c04":0.979,"c05":1.048,"c06":1.079,"c07":0.868,"c08":0.874,"c10":0.958,"c12":0.921,"c14":0.836},
      {"t":325.75,"c02":0.794,"c04":0.954,"c05":1.071,"c06":1.121,"c07":0.849,"c08":0.902,"c10":0.973,"c12":0.900,"c14":0.858},
      {"t":326,"c02":0.805,"c04":0.978,"c05":1.029,"c06":1.080,"c07":0.869,"c08":0.876,"c10":0.960,"c12":0.922,"c14":0.841},
      {"t":326.25,"c02":0.792,"c04":0.957,"c05":1.070,"c06":1.110,"c07":0.852,"c08":0.899,"c10":0.974,"c12":0.903,"c14":0.860},
      {"t":326.5,"c02":0.807,"c04":0.984,"c05":1.046,"c06":1.077,"c07":0.870,"c08":0.873,"c10":0.957,"c12":0.927,"c14":0.838},
      {"t":326.75,"c02":0.793,"c04":0.956,"c05":1.072,"c06":1.116,"c07":0.850,"c08":0.900,"c10":0.973,"c12":0.901,"c14":0.859},
      {"t":327,"c02":0.804,"c04":0.977,"c05":1.047,"c06":1.082,"c07":0.867,"c08":0.875,"c10":0.959,"c12":0.924,"c14":0.842},
      {"t":327.25,"c02":0.791,"c04":0.953,"c05":1.069,"c06":1.113,"c07":0.851,"c08":0.898,"c10":0.975,"c12":0.902,"c14":0.861},
      {"t":327.5,"c02":0.805,"c04":0.979,"c05":1.045,"c06":1.118,"c07":0.872,"c08":0.874,"c10":0.958,"c12":0.921,"c14":0.833},
      {"t":327.75,"c02":0.792,"c04":0.957,"c05":1.071,"c06":1.078,"c07":0.850,"c08":0.903,"c10":0.972,"c12":0.900,"c14":0.859},
      {"t":328,"c02":0.806,"c04":0.980,"c05":1.048,"c06":1.111,"c07":0.869,"c08":0.876,"c10":0.957,"c12":0.922,"c14":0.840},
      {"t":328.25,"c02":0.794,"c04":0.955,"c05":1.072,"c06":1.076,"c07":0.852,"c08":0.899,"c10":0.974,"c12":0.903,"c14":0.860},
      {"t":328.5,"c02":0.805,"c04":0.978,"c05":1.027,"c06":1.117,"c07":0.868,"c08":0.873,"c10":0.959,"c12":0.924,"c14":0.839},
      {"t":328.75,"c02":0.791,"c04":0.956,"c05":1.070,"c06":1.083,"c07":0.849,"c08":0.900,"c10":0.973,"c12":0.901,"c14":0.858},
      {"t":329,"c02":0.807,"c04":0.981,"c05":1.046,"c06":1.114,"c07":0.870,"c08":0.875,"c10":0.958,"c12":0.923,"c14":0.841},
      {"t":329.25,"c02":0.793,"c04":0.958,"c05":1.069,"c06":1.074,"c07":0.851,"c08":0.902,"c10":0.975,"c12":0.902,"c14":0.861},
      {"t":329.5,"c02":0.804,"c04":0.979,"c05":1.044,"c06":1.109,"c07":0.872,"c08":0.877,"c10":0.960,"c12":0.921,"c14":0.838},
      {"t":329.75,"c02":0.792,"c04":0.954,"c05":1.071,"c06":1.115,"c07":0.850,"c08":0.899,"c10":0.973,"c12":0.900,"c14":0.859},
      {"t":330,"c02":0.805,"c04":0.979,"c05":1.047,"c06":1.080,"c07":0.868,"c08":0.874,"c10":0.958,"c12":0.922,"c14":0.840}
    ]
  },
  "layer": [
    {
      "encoding": {
        "x": {
          "field": "t",
          "type": "quantitative",
          "scale": {"domain": [280, 330], "nice": false, "zero": false},
          "axis": {
            "title": "Time since start (hours)",
            "values": [280, 285, 290, 295, 300, 305, 310, 315, 320, 325, 330],
            "labelPadding": 8,
            "titlePadding": 1
          }
        }
      },
      "layer": [
        {
          "data": {"name": "bands"},
          "mark": {"type": "area", "opacity": 1, "clip": true},
          "encoding": {
            "y": {
              "field": "c01lo",
              "type": "quantitative",
              "scale": {"domain": [0.75, 1.15], "nice": false, "zero": false},
              "axis": {
                "title": "Psi_ca (°C/W)",
                "values": [0.75, 0.8, 0.85, 0.9, 0.95, 1, 1.05, 1.1, 1.15],
                "format": "~g",
                "labelPadding": 9,
                "titlePadding": 8
              }
            },
            "y2": {"field": "c01hi"},
            "color": {
              "datum": "c01",
              "type": "nominal",
              "scale": {
                "domain": ["c01", "c02", "c03", "c04", "c05", "c06", "c07", "c08", "c10", "c12", "c14"],
                "range": ["#ff0000", "#00ff00", "#0000ff", "#00ffff", "#ff00ff", "#ffff00", "#000000", "#ff8000", "#6600cc", "#8b4513", "#708090"]
              },
              "legend": {
                "title": null,
                "orient": "none",
                "legendX": 734,
                "legendY": 6,
                "fillColor": "white",
                "strokeColor": "#000000",
                "padding": 3,
                "symbolType": "M-3,-0.06H3V0.06H-3Z",
                "symbolSize": 64,
                "symbolOffset": 8,
                "symbolStrokeWidth": 1,
                "symbolOpacity": 1,
                "labelFont": "Liberation Sans",
                "labelFontSize": 9,
                "labelColor": "#000000",
                "labelOffset": 19,
                "rowPadding": 3,
                "labelExpr": "'Card ' + slice(datum.label, 1)"
              }
            }
          }
        },
        {"data": {"name": "bands"}, "mark": {"type": "area", "opacity": 1, "clip": true}, "encoding": {"y": {"field": "c02lo", "type": "quantitative"}, "y2": {"field": "c02hi"}, "color": {"datum": "c02", "type": "nominal"}}},
        {"data": {"name": "psi"}, "mark": {"type": "line", "strokeWidth": 1, "clip": true, "invalid": "filter"}, "encoding": {"y": {"field": "c02", "type": "quantitative"}, "color": {"datum": "c02", "type": "nominal"}}},
        {"data": {"name": "bands"}, "mark": {"type": "area", "opacity": 1, "clip": true}, "encoding": {"y": {"field": "c03lo", "type": "quantitative"}, "y2": {"field": "c03hi"}, "color": {"datum": "c03", "type": "nominal"}}},
        {"data": {"name": "bands"}, "mark": {"type": "area", "opacity": 1, "clip": true}, "encoding": {"y": {"field": "c04lo", "type": "quantitative"}, "y2": {"field": "c04hi"}, "color": {"datum": "c04", "type": "nominal"}}},
        {"data": {"name": "psi"}, "mark": {"type": "line", "strokeWidth": 1, "clip": true, "invalid": "filter"}, "encoding": {"y": {"field": "c04", "type": "quantitative"}, "color": {"datum": "c04", "type": "nominal"}}},
        {"data": {"name": "bands"}, "mark": {"type": "area", "opacity": 1, "clip": true}, "encoding": {"y": {"field": "c05lo", "type": "quantitative"}, "y2": {"field": "c05hi"}, "color": {"datum": "c05", "type": "nominal"}}},
        {"data": {"name": "psi"}, "mark": {"type": "line", "strokeWidth": 1, "clip": true, "invalid": "filter"}, "encoding": {"y": {"field": "c05", "type": "quantitative"}, "color": {"datum": "c05", "type": "nominal"}}},
        {"data": {"name": "bands"}, "mark": {"type": "area", "opacity": 1, "clip": true}, "encoding": {"y": {"field": "c06lo", "type": "quantitative"}, "y2": {"field": "c06hi"}, "color": {"datum": "c06", "type": "nominal"}}},
        {"data": {"name": "psi"}, "mark": {"type": "line", "strokeWidth": 1, "clip": true, "invalid": "filter"}, "encoding": {"y": {"field": "c06", "type": "quantitative"}, "color": {"datum": "c06", "type": "nominal"}}},
        {"data": {"name": "bands"}, "mark": {"type": "area", "opacity": 1, "clip": true}, "encoding": {"y": {"field": "c07lo", "type": "quantitative"}, "y2": {"field": "c07hi"}, "color": {"datum": "c07", "type": "nominal"}}},
        {"data": {"name": "psi"}, "mark": {"type": "line", "strokeWidth": 1, "clip": true, "invalid": "filter"}, "encoding": {"y": {"field": "c07", "type": "quantitative"}, "color": {"datum": "c07", "type": "nominal"}}},
        {"data": {"name": "bands"}, "mark": {"type": "area", "opacity": 1, "clip": true}, "encoding": {"y": {"field": "c08lo", "type": "quantitative"}, "y2": {"field": "c08hi"}, "color": {"datum": "c08", "type": "nominal"}}},
        {"data": {"name": "psi"}, "mark": {"type": "line", "strokeWidth": 1, "clip": true, "invalid": "filter"}, "encoding": {"y": {"field": "c08", "type": "quantitative"}, "color": {"datum": "c08", "type": "nominal"}}},
        {"data": {"name": "bands"}, "mark": {"type": "area", "opacity": 1, "clip": true}, "encoding": {"y": {"field": "c10lo", "type": "quantitative"}, "y2": {"field": "c10hi"}, "color": {"datum": "c10", "type": "nominal"}}},
        {"data": {"name": "psi"}, "mark": {"type": "line", "strokeWidth": 1, "clip": true, "invalid": "filter"}, "encoding": {"y": {"field": "c10", "type": "quantitative"}, "color": {"datum": "c10", "type": "nominal"}}},
        {"data": {"name": "bands"}, "mark": {"type": "area", "opacity": 1, "clip": true}, "encoding": {"y": {"field": "c12lo", "type": "quantitative"}, "y2": {"field": "c12hi"}, "color": {"datum": "c12", "type": "nominal"}}},
        {"data": {"name": "psi"}, "mark": {"type": "line", "strokeWidth": 1, "clip": true, "invalid": "filter"}, "encoding": {"y": {"field": "c12", "type": "quantitative"}, "color": {"datum": "c12", "type": "nominal"}}},
        {"data": {"name": "bands"}, "mark": {"type": "area", "opacity": 1, "clip": true}, "encoding": {"y": {"field": "c14lo", "type": "quantitative"}, "y2": {"field": "c14hi"}, "color": {"datum": "c14", "type": "nominal"}}},
        {"data": {"name": "psi"}, "mark": {"type": "line", "strokeWidth": 1, "clip": true, "invalid": "filter"}, "encoding": {"y": {"field": "c14", "type": "quantitative"}, "color": {"datum": "c14", "type": "nominal"}}}
      ]
    },
    {
      "data": {"values": [{"t": 280, "psi": 0.75}]},
      "mark": {"type": "point", "opacity": 0},
      "encoding": {
        "x": {
          "field": "t",
          "type": "quantitative",
          "scale": {"domain": [280, 330], "nice": false, "zero": false},
          "axis": {"orient": "top", "labels": false, "title": null, "values": [285, 290, 295, 300, 305, 310, 315, 320, 325]}
        },
        "y": {
          "field": "psi",
          "type": "quantitative",
          "scale": {"domain": [0.75, 1.15], "nice": false, "zero": false},
          "axis": {"orient": "right", "labels": false, "title": null, "values": [0.8, 0.85, 0.9, 0.95, 1, 1.05, 1.1]}
        }
      }
    }
  ],
  "resolve": {"axis": {"x": "independent", "y": "independent"}}
}
